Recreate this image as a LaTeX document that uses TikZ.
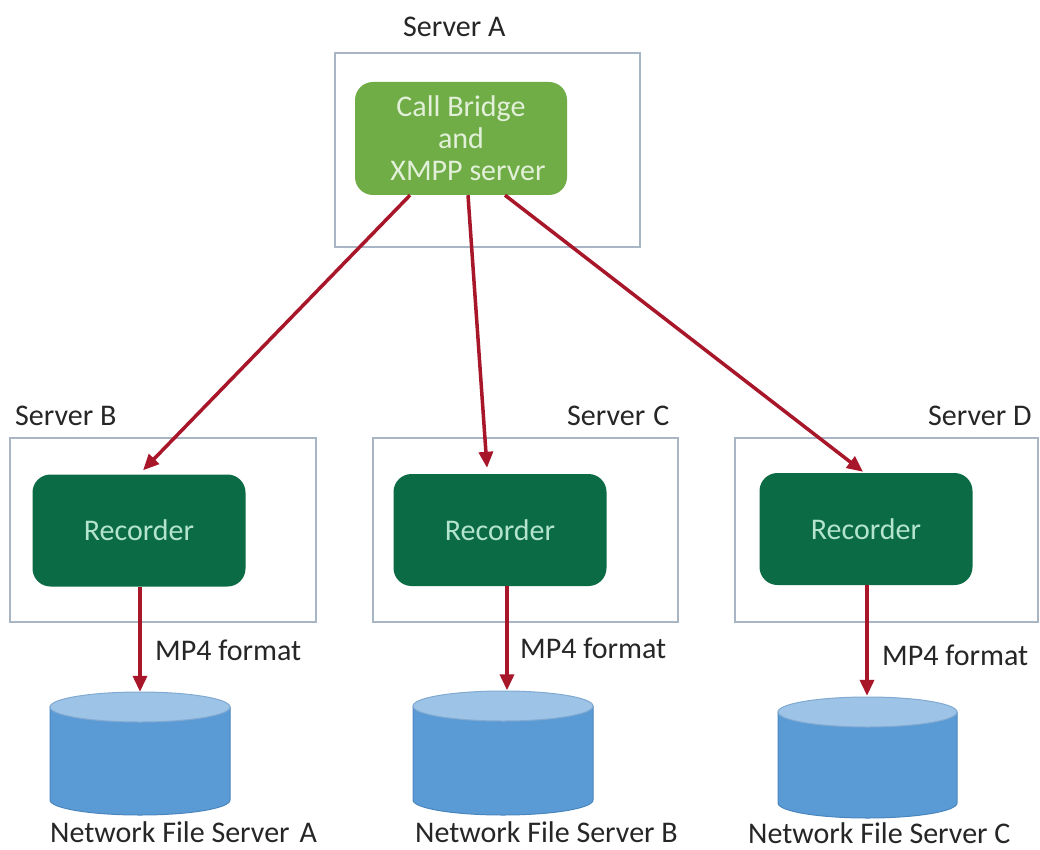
\documentclass[tikz,border=0pt]{standalone}
\usepackage{fontspec}
\setmainfont{Carlito}
\usetikzlibrary{arrows.meta,calc}
\definecolor{cbgreen}{HTML}{70AD47}
\definecolor{cbtext}{HTML}{E2F0D9}
\definecolor{recgreen}{HTML}{0B6B45}
\definecolor{rectext}{HTML}{B4E4CC}
\definecolor{boxline}{HTML}{A7B5C4}
\definecolor{arrowred}{HTML}{A8162A}
\definecolor{dbbody}{HTML}{5B9BD5}
\definecolor{dbtop}{HTML}{9DC3E6}
\definecolor{dbline}{HTML}{4A86BE}
\definecolor{txt}{HTML}{262626}
\newcommand{\mycyl}[4]{% cx, r, top, bottom
  \fill[dbbody,draw=dbline,line width=1pt] (#1-#2,-#3-15) -- (#1-#2,-#4+15)
    arc[start angle=180,end angle=360,x radius=#2,y radius=15] -- (#1+#2,-#3-15) -- cycle;
  \fill[dbtop,draw=dbline!70,line width=1pt] (#1,-#3-15) ellipse[x radius=#2,y radius=15];
}
\begin{document}
\begin{tikzpicture}[x=1pt,y=1pt,
  font=\fontsize{30}{32}\selectfont,
  serverbox/.style={draw=boxline,line width=1.5pt,inner sep=0pt},
  bridge/.style={fill=cbgreen,rounded corners=18pt,text=cbtext,align=center,inner sep=0pt,minimum width=212pt,minimum height=113pt},
  recorder/.style={fill=recgreen,rounded corners=18pt,text=rectext,inner sep=0pt,minimum width=213pt,minimum height=112pt},
  label/.style={text=txt,inner sep=0pt},
  flow/.style={draw=arrowred,line width=3.5pt,-{Triangle[length=16pt,width=14pt]}},
  anchorbox/.style={inner sep=0pt,minimum width=180pt,minimum height=123pt}]
\useasboundingbox (0,0) rectangle (1040,-850);
\fill[white] (0,0) rectangle (1040,-850);

% server boxes
\node[serverbox,minimum width=305pt,minimum height=194pt] (sa) at (487.5,-150) {};
\node[serverbox,minimum width=306pt,minimum height=184pt] (sb) at (163,-530) {};
\node[serverbox,minimum width=305pt,minimum height=184pt] (sc) at (525.5,-530) {};
\node[serverbox,minimum width=303pt,minimum height=184pt] (sd) at (886.5,-530) {};

% server labels
\node[label,anchor=base west] (la) at (403,-37) {Server A};
\node[label,anchor=base west] (lb) at (15,-425) {Server B};
\node[label,anchor=base west] (lc) at (567,-425) {Server\hspace{8pt}C};
\node[label,anchor=base west] (ld) at (928,-425) {Server D};

% call bridge
\node[bridge] (cb) at (461,-138.5) {Call Bridge\\and\\\hspace{14pt}XMPP server};

% recorders
\node[recorder] (rb) at (139,-530.5) {Recorder};
\node[recorder] (rc) at (500,-530) {Recorder};
\node[recorder] (rd) at (866,-529) {Recorder};

% storage cylinders
\mycyl{140}{90}{692}{815}
\mycyl{503}{90}{691}{815}
\mycyl{867.5}{89.5}{697}{818}
\node[anchorbox] (na) at (140,-753.5) {};
\node[anchorbox] (nb) at (503,-753) {};
\node[anchorbox] (nc) at (867.5,-757.5) {};

% storage labels
\node[label,anchor=base west] (tna) at (50,-842) {Network File Server\hspace{10pt}A};
\node[label,anchor=base west] (tnb) at (415,-842) {Network File Server B};
\node[label,anchor=base west] (tnc) at (748,-843) {Network File Server C};

% connectors
\draw[flow] ([xshift=-51pt]cb.south) -- ([shift={(4pt,4pt)}]rb.north);
\draw[flow] ([xshift=7pt]cb.south) -- ([shift={(-13pt,6pt)}]rc.north);
\draw[flow] ([xshift=44pt]cb.south) -- ([shift={(-3pt,1pt)}]rd.north);

\draw[flow] ([xshift=1pt]rb.south) -- ([xshift=0pt]na.north);
\draw[flow] ([xshift=7pt]rc.south) -- ([xshift=4pt,yshift=1pt]nb.north);
\draw[flow] ([xshift=1pt]rd.south) -- ([xshift=-0.5pt]nc.north);

% format labels
\node[label,anchor=base west] (fa) at (155,-660) {MP4 format};
\node[label,anchor=base west] (fb) at (520,-658) {MP4 format};
\node[label,anchor=base west] (fc) at (882,-665) {MP4 format};
\end{tikzpicture}
\end{document}
